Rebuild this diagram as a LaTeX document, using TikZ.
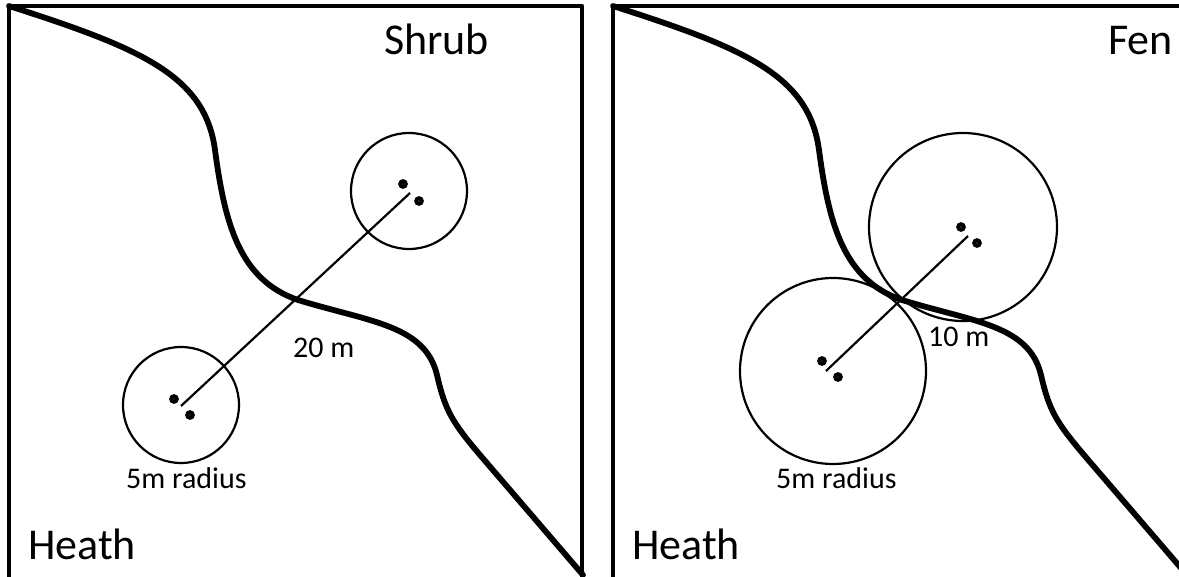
\documentclass[tikz,border=0pt]{standalone}
\usepackage{fontspec}
\setmainfont{Carlito}
\usetikzlibrary{positioning}

\begin{document}
\begin{tikzpicture}[x=1pt, y=-1pt,
  panelbox/.style={line width=4.6pt, line join=round},
  zoneline/.style={line width=5.8pt, line cap=round},
  ring/.style={draw, circle, line width=2.2pt, inner sep=0pt},
  link/.style={line width=2.2pt},
  stake/.style={draw, circle, line width=4pt, fill=white, inner sep=0pt, minimum size=5.5pt},
  zonelbl/.style={font=\fontsize{44}{48}\selectfont, inner sep=0pt, anchor=base west},
  notelbl/.style={font=\fontsize{30}{33}\selectfont, inner sep=0pt, anchor=base west}
]
\useasboundingbox (0,0) rectangle (1179,577);

% two panels, same boundary curve
\foreach \dx in {0,604} {
  \begin{scope}[xshift=\dx]
    \draw[panelbox] (9,590) -- (9,6) -- (582,6) -- (582,590);
    \draw[zoneline] (9,6) .. controls (140,48) and (205,75) .. (215,150)
      .. controls (225,225) and (240,280) .. (298,300)
      .. controls (370,322) and (425,325) .. (437,375)
      .. controls (445,410) and (452,422) .. (480,455) -- (583,575);
  \end{scope}
}

% plot centres
\coordinate (pA) at (181,406);
\coordinate (pB) at (410,193);
\coordinate (pC) at (826,371);
\coordinate (pD) at (968,236);

% plot rings
\node[ring, minimum size=116pt] (rA) at (181,405) {};
\node[ring, minimum size=116pt] (rB) at (409,191) {};
\node[ring, minimum size=186pt] (rC) at (833,371) {};
\node[ring, minimum size=188pt] (rD) at (963,227) {};

\draw[link] (pA) -- (pB);
\draw[link] (pC) -- (pD);

% stakes
\node[stake] (sA1) at (174,399) {};
\node[stake] (sA2) at (190,415) {};
\node[stake] (sB1) at (403,184) {};
\node[stake] (sB2) at (419,201) {};
\node[stake] (sC1) at (822,361) {};
\node[stake] (sC2) at (838,377) {};
\node[stake] (sD1) at (961,227) {};
\node[stake] (sD2) at (977,243) {};

% labels
\node[zonelbl] (shrub) at (384,55) {Shrub};
\node[zonelbl] (fen) at (1108,55) {Fen};
\node[zonelbl] (heathL) at (28,559) {Heath};
\node[zonelbl] (heathR) at (632,559) {Heath};
\node[notelbl] (distL) at (293,358) {20 m};
\node[notelbl] (distR) at (928,347) {10 m};
\node[notelbl] (radL) at (126,488) {5m radius};
\node[notelbl] (radR) at (776,488) {5m radius};
\end{tikzpicture}
\end{document}
